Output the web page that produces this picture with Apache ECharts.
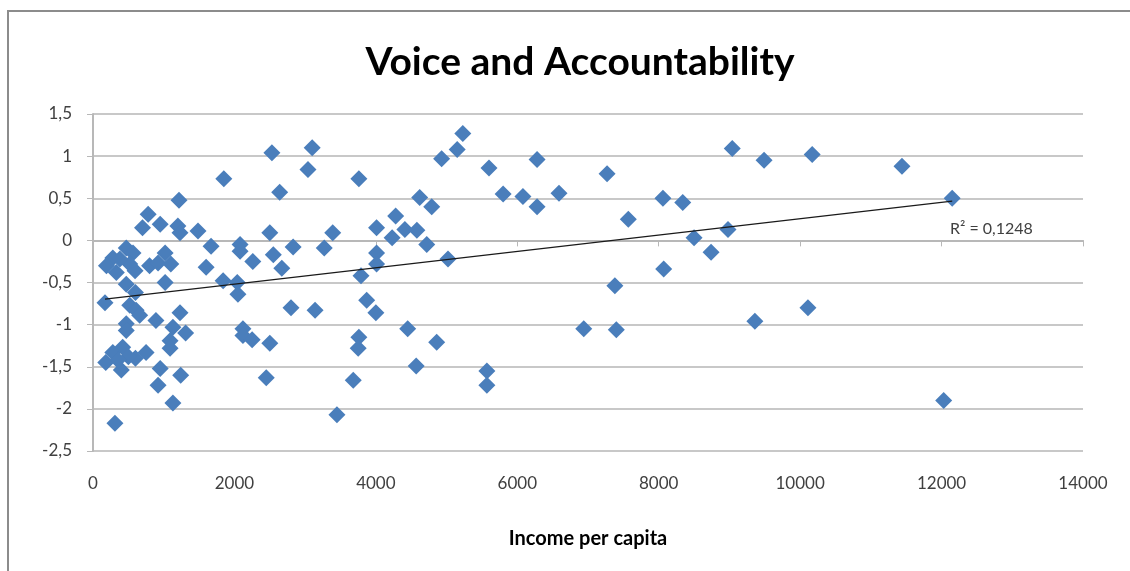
<!DOCTYPE html>
<html>
<head>
<meta charset="utf-8">
<script src="https://cdn.jsdelivr.net/npm/echarts@6/dist/echarts.min.js"></script>
<style>
  html, body { margin: 0; padding: 0; background: #fff; }
  #chart { width: 1130px; height: 571px; }
</style>
</head>
<body>
<div id="chart"></div>
<script>
// income per capita / voice and accountability score
var income = [
  470, 566, 280, 190, 520, 595, 1020, 800, 920, 1100, 1020, 470, 170, 520, 610, 660,
  1230, 890, 470, 470, 1130, 1310, 1090, 1090, 420, 280, 750, 600, 180, 400, 950, 1240,
  920, 1130, 310, 500, 350, 380, 600, 330,
  780, 700, 950, 1200, 1230, 1216, 1485,
  1850, 2530, 3100, 3040, 2640, 3760, 1670, 1600, 1840, 2040, 2080, 2080, 2260, 2050,
  2500, 2550, 2670, 2830, 2800, 3140, 3270, 3390, 2120, 2120, 2250, 2500, 2450, 3450,
  3680, 3760, 3750, 3790, 3870, 4000, 4010, 4010, 4010, 4230, 4280, 4410, 4580, 4620,
  4790, 4720, 5020, 4930, 5150, 5230, 4450, 4860, 4570, 5570, 5570, 5600, 5800, 6080,
  6280, 6280, 6590, 6940, 7270, 7380, 7400, 7570, 8060, 8070, 8340, 8500, 8740, 8980,
  9040, 9490, 9360, 10110, 10170, 11440, 12150, 12030
];
var voice = [
  -0.09, -0.15, -0.21, -0.30, -0.28, -0.36, -0.15, -0.30, -0.27, -0.28, -0.50, -0.52, -0.74, -0.77, -0.83, -0.89,
  -0.86, -0.95, -0.99, -1.07, -1.03, -1.10, -1.19, -1.28, -1.27, -1.33, -1.33, -1.40, -1.45, -1.54, -1.52, -1.60,
  -1.72, -1.93, -2.17, -1.38, -1.42, -0.22, -0.62, -0.38,
  0.31, 0.15, 0.19, 0.17, 0.09, 0.475, 0.11,
  0.73, 1.04, 1.10, 0.84, 0.57, 0.73, -0.07, -0.32, -0.48, -0.50, -0.05, -0.13, -0.25, -0.64,
  0.09, -0.17, -0.33, -0.08, -0.80, -0.83, -0.09, 0.09, -1.05, -1.13, -1.18, -1.22, -1.63, -2.07,
  -1.66, -1.15, -1.28, -0.42, -0.71, -0.86, 0.15, -0.15, -0.28, 0.03, 0.29, 0.13, 0.12, 0.51,
  0.40, -0.05, -0.22, 0.97, 1.08, 1.27, -1.05, -1.21, -1.49, -1.55, -1.72, 0.86, 0.55, 0.52,
  0.40, 0.96, 0.56, -1.05, 0.79, -0.54, -1.06, 0.25, 0.50, -0.34, 0.45, 0.03, -0.14, 0.13,
  1.09, 0.95, -0.96, -0.80, 1.02, 0.88, 0.50, -1.90
];
var r2Text = 'R² = 0,1248';

var points = income.map(function (x, i) { return [x, voice[i]]; });

// least squares trend line over the data range
function linearFit(xs, ys) {
  var n = xs.length, sx = 0, sy = 0, sxx = 0, sxy = 0;
  for (var i = 0; i < n; i++) {
    sx += xs[i]; sy += ys[i]; sxx += xs[i] * xs[i]; sxy += xs[i] * ys[i];
  }
  var b = (n * sxy - sx * sy) / (n * sxx - sx * sx);
  var a = (sy - b * sx) / n;
  return { a: a, b: b };
}
var fit = linearFit(income, voice);
var xMin = Math.min.apply(null, income);
var xMax = Math.max.apply(null, income);
var trend = [[xMin, fit.a + fit.b * xMin], [xMax, fit.a + fit.b * xMax]];

var font = 'Lato, "Open Sans", sans-serif';
var chart = echarts.init(document.getElementById('chart'));
chart.setOption({
  animation: false,
  backgroundColor: '#fff',
  title: {
    text: 'Voice and Accountability',
    left: 575,
    textAlign: 'center',
    top: 38,
    textStyle: { fontFamily: font, fontSize: 39, fontWeight: 'bold', color: '#000' }
  },
  graphic: [
    {
      type: 'polyline',
      shape: { points: [[8, 600], [8, 11], [1140, 11]] },
      style: { stroke: '#8c8c8c', lineWidth: 2, fill: null }
    },
    {
      type: 'text',
      left: 950,
      top: 221,
      style: { text: r2Text, fontFamily: font, fontSize: 16, fill: '#404040' }
    }
  ],
  grid: { left: 93, right: 47, top: 114, bottom: 120 },
  xAxis: {
    type: 'value',
    min: 0, max: 14000, interval: 2000,
    name: 'Income per capita',
    nameLocation: 'middle',
    nameGap: 78,
    nameTextStyle: { fontFamily: font, fontSize: 20, fontWeight: 'bold', color: '#000' },
    axisLine: { show: true, lineStyle: { color: '#b8b8b8', width: 2 } },
    axisTick: { show: true, length: 6, lineStyle: { color: '#b8b8b8', width: 1 } },
    axisLabel: {
      fontFamily: font, fontSize: 17, color: '#404040', margin: 24,
      formatter: function (v) { return String(v); }
    },
    splitLine: { show: false }
  },
  yAxis: {
    type: 'value',
    min: -2.5, max: 1.5, interval: 0.5,
    axisLine: { show: true, lineStyle: { color: '#b8b8b8', width: 2 } },
    axisTick: { show: true, length: 6, lineStyle: { color: '#b8b8b8', width: 1 } },
    axisLabel: {
      fontFamily: font, fontSize: 17, color: '#404040', margin: 21,
      formatter: function (v) { return String(v).replace('.', ','); }
    },
    splitLine: { show: true, lineStyle: { color: '#c8c8c8', width: 2 } }
  },
  series: [
    {
      type: 'scatter',
      symbol: 'diamond',
      symbolSize: 17,
      itemStyle: { color: '#4A7EBB', opacity: 1 },
      data: points,
      z: 3
    },
    {
      type: 'line',
      data: trend,
      symbol: 'none',
      lineStyle: { color: '#1a1a1a', width: 1.2 },
      z: 4
    }
  ]
});
</script>
</body>
</html>
